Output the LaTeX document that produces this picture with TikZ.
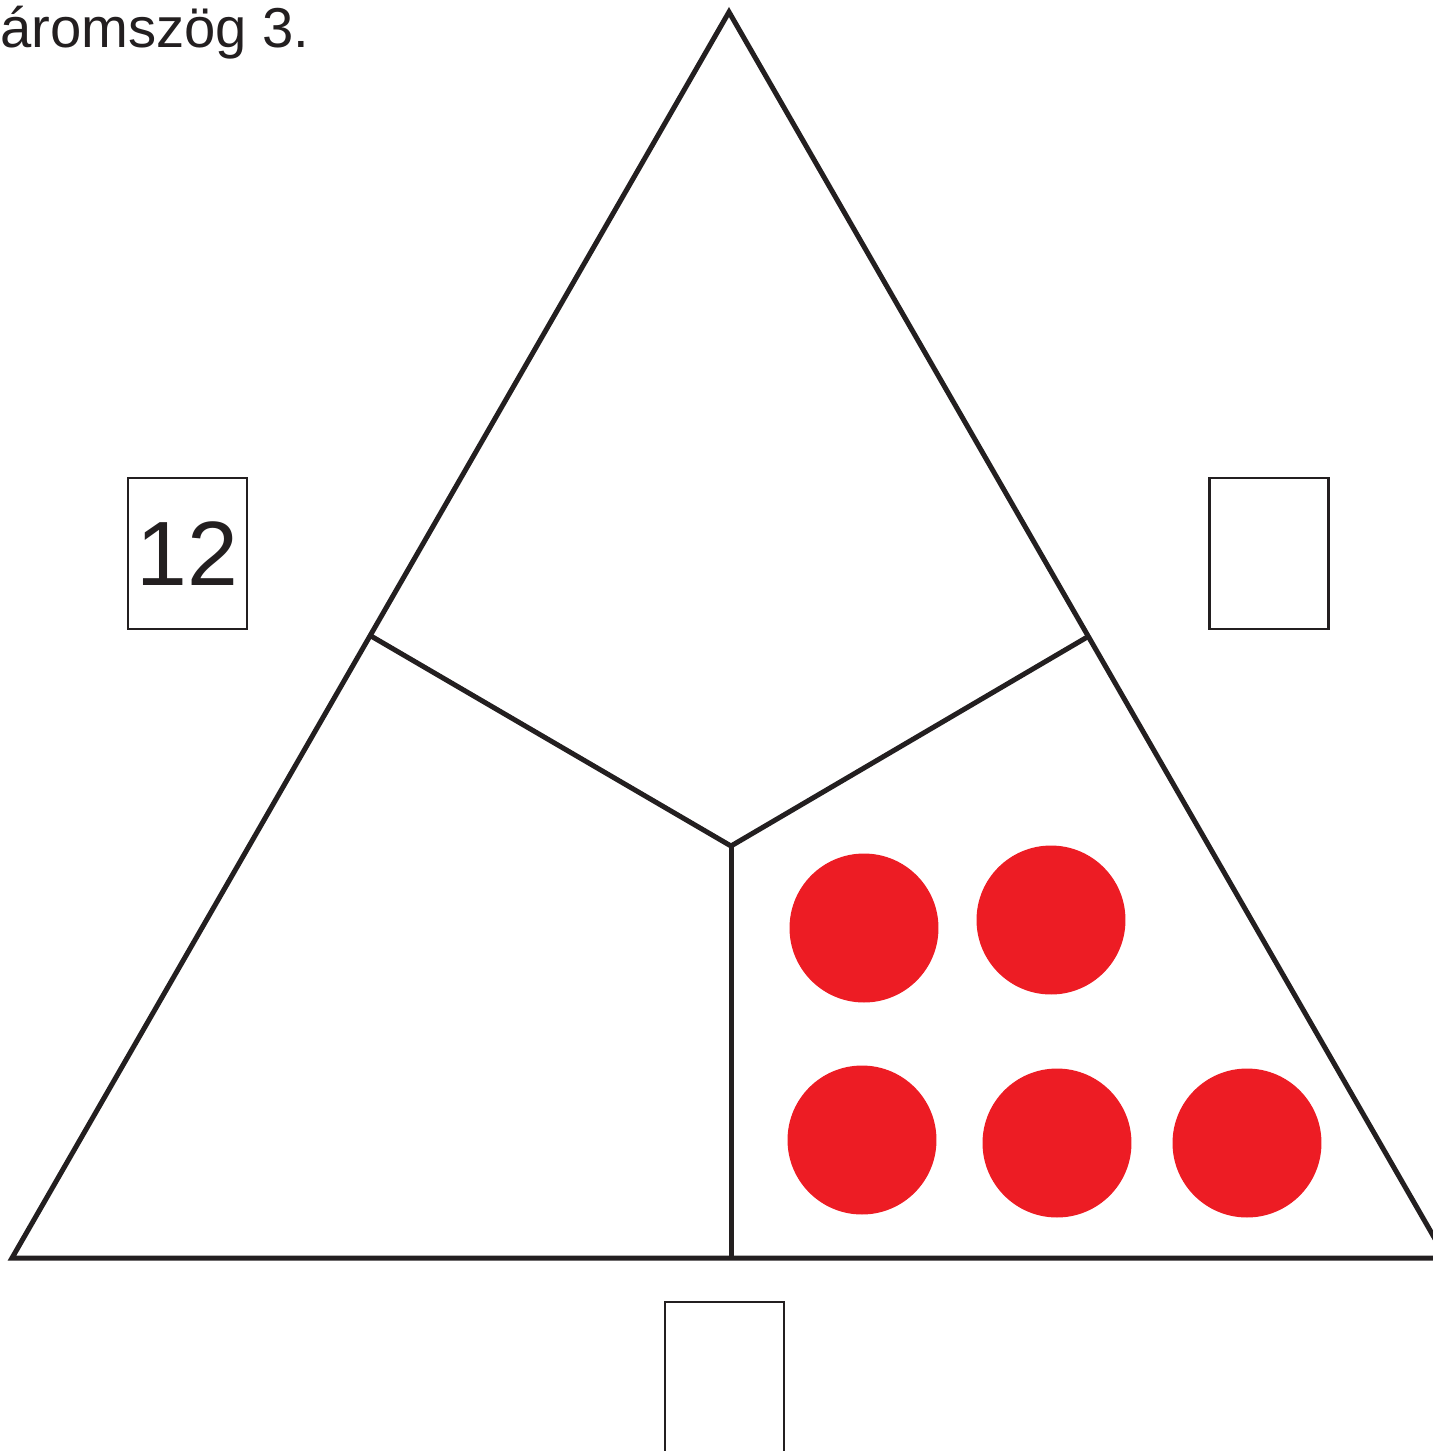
\documentclass[tikz,border=0pt]{standalone}
\usepackage{fontspec}
\setmainfont{Liberation Sans}
\definecolor{vonal}{HTML}{231F20}
\definecolor{piros}{HTML}{ED1C24}
\tikzset{
  el/.style={vonal, line width=2.85pt},
  doboz/.style={draw=vonal, line width=1.4pt, minimum width=2.38cm,
    minimum height=3.02cm, inner sep=0pt, text=vonal,
    font=\fontsize{52}{56}\selectfont},
  korong/.style={circle, fill=piros, minimum size=2.98cm, inner sep=0pt},
}
\begin{document}
\begin{tikzpicture}[x=0.02cm, y=-0.02cm]
    \useasboundingbox (0,0) rectangle (1433,1451);

    % Cím
    \node[anchor=base west, inner sep=0pt, text=vonal,
          font=\fontsize{32}{36}\selectfont] (cim) at (0,47) {áromszög 3.};

    % Háromszög
    \coordinate (csucs) at (729,12);
    \coordinate (bal) at (12,1258);
    \coordinate (jobb) at (1446,1258);
    \coordinate (balfel) at (371,636);
    \coordinate (jobbfel) at (1089,636);
    \coordinate (kozep) at (731,846);
    \coordinate (alul) at (731,1258);
    \draw[el] (csucs) -- (bal) -- (jobb) -- cycle;

    % Belső vonalak
    \draw[el] (balfel) -- (kozep) -- (jobbfel);
    \draw[el] (kozep) -- (alul);

    % Dobozok
    \node[doboz] (balszam) at (187.5,553.5) {12};
    \node[doboz] (jobbszam) at (1269,553.5) {};
    \node[doboz] (alsoszam) at (724.5,1377.5) {};

    % Korongok
    \node[korong] (k1) at (864,928) {};
    \node[korong] (k2) at (1051,920) {};
    \node[korong] (k3) at (862,1140) {};
    \node[korong] (k4) at (1057,1143) {};
    \node[korong] (k5) at (1247,1143) {};
\end{tikzpicture}
\end{document}
